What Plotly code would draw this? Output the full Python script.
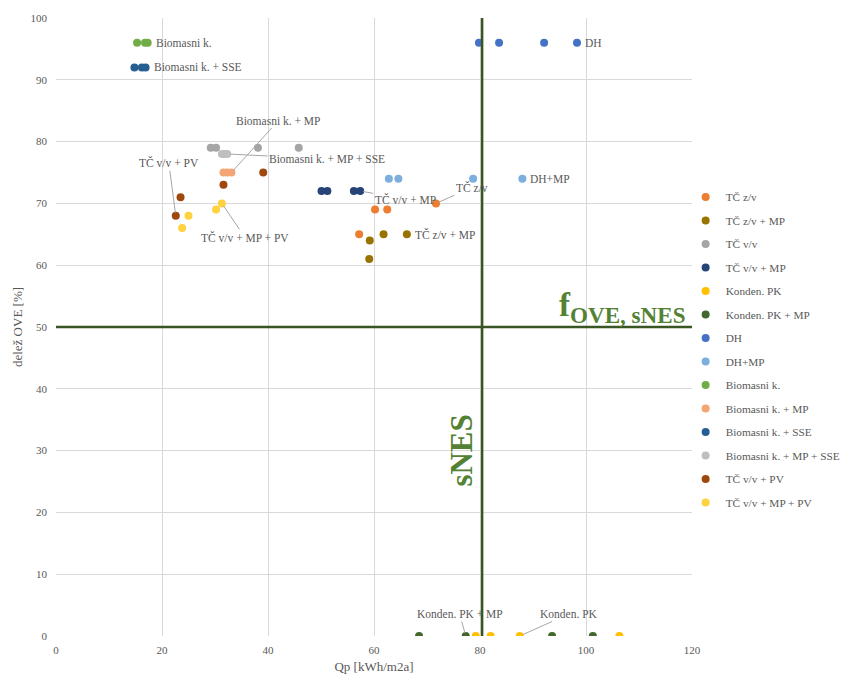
import plotly.graph_objects as go

# ---- data: Qp [kWh/m2a] and share of renewables (delež OVE) [%] per system variant ----
series_names = [
    "TČ z/v", "TČ z/v + MP", "TČ v/v", "TČ v/v + MP", "Konden. PK", "Konden. PK + MP",
    "DH", "DH+MP", "Biomasni k.", "Biomasni k. + MP", "Biomasni k. + SSE",
    "Biomasni k. + MP + SSE", "TČ v/v + PV", "TČ v/v + MP + PV",
]

tc_zv_x = [57.2, 60.2, 62.5, 71.7]
tc_zv_y = [65, 69, 69, 70]
tc_zv_mp_x = [59.1, 59.2, 61.8, 66.2]
tc_zv_mp_y = [61, 64, 65, 65]
tc_vv_x = [29.2, 30.2, 38.1, 45.8]
tc_vv_y = [79, 79, 79, 79]
tc_vv_mp_x = [50.1, 51.2, 56.2, 57.4]
tc_vv_mp_y = [72, 72, 72, 72]
pk_x = [79.2, 82.0, 87.5, 106.3]
pk_y = [0, 0, 0, 0]
pk_mp_x = [68.5, 77.3, 93.6, 101.3]
pk_mp_y = [0, 0, 0, 0]
dh_x = [79.8, 83.6, 92.1, 98.3]
dh_y = [96, 96, 96, 96]
dh_mp_x = [62.8, 64.6, 78.7, 88.0]
dh_mp_y = [74, 74, 74, 74]
bio_x = [15.3, 16.8, 17.3]
bio_y = [96, 96, 96]
bio_mp_x = [31.6, 32.3, 33.1]
bio_mp_y = [75, 75, 75]
bio_sse_x = [14.8, 16.2, 16.9]
bio_sse_y = [92, 92, 92]
bio_mp_sse_x = [31.3, 31.8, 32.3]
bio_mp_sse_y = [78, 78, 78]
tc_pv_x = [22.6, 23.5, 31.6, 39.1]
tc_pv_y = [68, 71, 73, 75]
tc_mp_pv_x = [23.8, 25.0, 30.2, 31.3]
tc_mp_pv_y = [66, 68, 69, 70]

series_x = [tc_zv_x, tc_zv_mp_x, tc_vv_x, tc_vv_mp_x, pk_x, pk_mp_x, dh_x, dh_mp_x,
            bio_x, bio_mp_x, bio_sse_x, bio_mp_sse_x, tc_pv_x, tc_mp_pv_x]
series_y = [tc_zv_y, tc_zv_mp_y, tc_vv_y, tc_vv_mp_y, pk_y, pk_mp_y, dh_y, dh_mp_y,
            bio_y, bio_mp_y, bio_sse_y, bio_mp_sse_y, tc_pv_y, tc_mp_pv_y]
series_colors = ["#ED7D31", "#997300", "#A5A5A5", "#264478", "#FFC000", "#43682B",
                 "#4472C4", "#7CAFDD", "#70AD47", "#F4A574", "#255E91", "#BFBFBF",
                 "#9E480E", "#FFD23F"]

# threshold values
qp_snes = 80.4
ove_snes = 50

FONT = "Liberation Serif"
GREY_TXT = "#595959"
LINE_GREEN = "#375623"
TEXT_GREEN = "#548235"

fig = go.Figure()
for i, (name, xs, ys, col) in enumerate(zip(series_names, series_x, series_y, series_colors)):
    fig.add_trace(go.Scatter(
        x=xs, y=ys, mode="markers", name=name, legendgroup=f"g{i}",
        marker=dict(color=col, size=8, line=dict(width=0)),
    ))

shapes = [
    dict(type="line", xref="x", yref="y", x0=0, x1=120, y0=ove_snes, y1=ove_snes,
         line=dict(color=LINE_GREEN, width=2.5), layer="above"),
    dict(type="line", xref="x", yref="y", x0=qp_snes, x1=qp_snes, y0=0, y1=100,
         line=dict(color=LINE_GREEN, width=2.5), layer="above"),
]

lbl_font = dict(family=FONT, size=11.5, color=GREY_TXT)
annotations = []

# plain data labels to the right of a series
for text, x, y in [("Biomasni k.", bio_x[-1], bio_y[-1]),
                   ("Biomasni k. + SSE", bio_sse_x[-1], bio_sse_y[-1]),
                   ("DH", dh_x[-1], dh_y[-1]),
                   ("DH+MP", dh_mp_x[-1], dh_mp_y[-1]),
                   ("TČ z/v + MP", tc_zv_mp_x[-1], tc_zv_mp_y[-1])]:
    annotations.append(dict(x=x, y=y, xref="x", yref="y", text=text, showarrow=False,
                            xanchor="left", yanchor="middle", xshift=6, font=lbl_font))

# data labels with leader lines
for text, x, y, ax, ay in [
    ("Biomasni k. + MP", bio_mp_x[-1], bio_mp_y[-1], 47, -52),
    ("Biomasni k. + MP + SSE", bio_mp_sse_x[-1], bio_mp_sse_y[-1], 100, 5),
    ("TČ v/v + PV", tc_pv_x[0], tc_pv_y[0], -7, -53),
    ("TČ v/v + MP + PV", tc_mp_pv_x[-1], tc_mp_pv_y[-1], 23, 34),
    ("TČ v/v + MP", tc_vv_mp_x[-1], tc_vv_mp_y[-1], 45, 8),
    ("TČ z/v", tc_zv_x[-1], tc_zv_y[-1], 36, -16),
    ("Konden. PK + MP", pk_mp_x[1], pk_mp_y[1], -6, -22),
    ("Konden. PK", pk_x[2], pk_y[2], 49, -22),
]:
    annotations.append(dict(x=x, y=y, xref="x", yref="y", text=text, showarrow=True,
                            arrowhead=0, arrowwidth=1, arrowcolor="#A6A6A6",
                            ax=ax, ay=ay, standoff=3, font=lbl_font))

# threshold captions
annotations.append(dict(x=qp_snes - 3.8, y=30, xref="x", yref="y", text="<b>sNES</b>",
                        showarrow=False, textangle=-90, xanchor="center", yanchor="middle",
                        font=dict(family=FONT, size=31, color=TEXT_GREEN)))
annotations.append(dict(x=119.3, y=ove_snes + 0.5, xref="x", yref="y", yshift=-6,
                        text="<b>f<sub>OVE, sNES</sub></b>",
                        showarrow=False, xanchor="right", yanchor="bottom",
                        font=dict(family=FONT, size=33, color=TEXT_GREEN)))

axis_common = dict(
    showgrid=True, gridcolor="#D9D9D9", gridwidth=1, zeroline=False,
    showline=False, ticks="",
    tickfont=dict(family=FONT, size=11, color=GREY_TXT),
)

fig.update_layout(
    template="none",
    width=845, height=680,
    margin=dict(l=56, r=153, t=18, b=44, autoexpand=False),
    paper_bgcolor="white", plot_bgcolor="white",
    font=dict(family=FONT, color=GREY_TXT),
    xaxis=dict(range=[0, 120], dtick=20, ticklabelstandoff=6,
               title=dict(text="Qp [kWh/m2a]", standoff=6,
                          font=dict(family=FONT, size=13, color=GREY_TXT)), **axis_common),
    yaxis=dict(range=[0, 100], dtick=10, ticklabelstandoff=8,
               title=dict(text="delež OVE [%]", standoff=4,
                          font=dict(family=FONT, size=13, color=GREY_TXT)), **axis_common),
    legend=dict(x=0.99, y=0.734, xanchor="left", yanchor="top",
                font=dict(family=FONT, size=11.3, color=GREY_TXT),
                tracegroupgap=4.5, itemwidth=30, bgcolor="rgba(0,0,0,0)"),
    shapes=shapes, annotations=annotations,
)

fig.write_html("out.html")
